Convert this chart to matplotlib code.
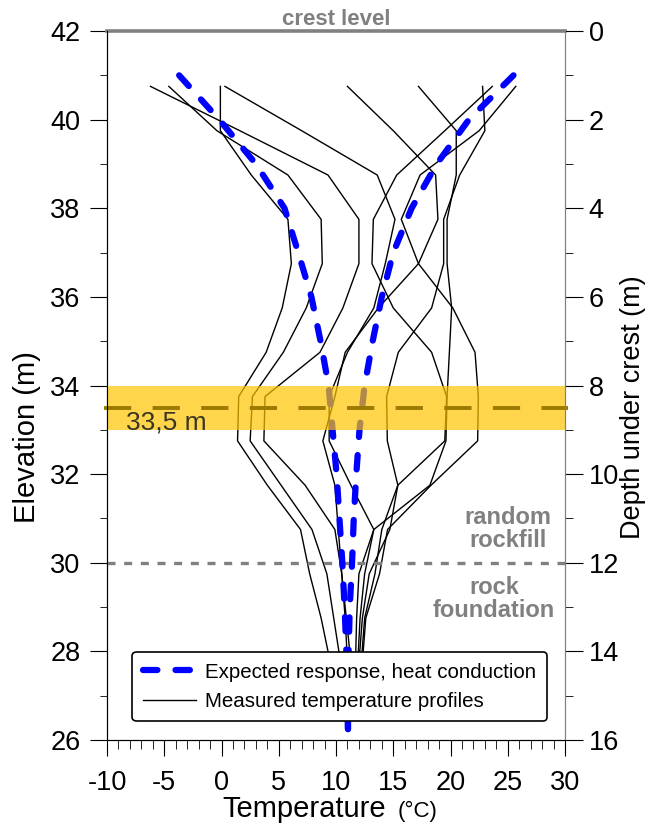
import matplotlib.pyplot as plt
from matplotlib.ticker import MultipleLocator

plt.rcParams['font.family'] = ['Liberation Sans', 'DejaVu Sans']
plt.rcParams['axes.unicode_minus'] = False

# expected response (heat conduction), elevation in m vs temperature in C
elev_calc = [41, 40, 39, 38, 37, 36, 35, 34, 33, 32, 31, 30, 29, 28, 27, 26]
calc_cold = [-3.7, -0.2, 3.0, 5.5, 6.7, 7.85, 8.65, 9.35, 9.7, 10.05, 10.3, 10.55, 10.75, 10.9, 11.0, 11.05]
calc_warm = [25.5, 21.6, 18.8, 16.6, 15.0, 14.0, 13.2, 12.5, 12.05, 11.77, 11.55, 11.4, 11.2, 11.1, 11.05, 11.05]

# measured temperature profiles (one value per sensor level)
elev_meas = [40.75, 39.75, 38.75, 37.75, 36.75, 35.75, 34.75, 33.75, 32.75, 31.75, 30.75, 29.75, 28.75, 27.75]
prof_a = [-6.2, 1.6, 9.3, 12.0, 12.0, 10.6, 8.6, 3.8, 3.7, 7.3, 9.9, 10.5, 10.9, 11.3]
prof_b = [-4.6, -0.4, 5.8, 8.7, 8.8, 7.4, 5.4, 2.7, 2.5, 5.2, 7.9, 9.2, 9.8, 10.4]
prof_c = [-0.1, -0.1, 2.6, 5.8, 6.1, 5.3, 3.9, 1.5, 1.4, 4.0, 6.9, 7.7, 8.7, 9.5]
prof_d = [0.3, 7.0, 13.6, 15.15, 14.3, 13.3, 11.0, 9.4, 9.4, 11.3, 13.3, 12.5, 12.1, 11.9]
prof_e = [11.0, 15.0, 18.7, 18.9, 17.2, 13.7, 10.8, 9.9, 8.85, 9.9, 10.2, 10.5, 10.8, 11.0]
prof_f = [17.2, 20.5, 20.5, 19.7, 19.7, 20.1, 19.9, 19.7, 19.6, 18.2, 13.3, 12.0, 11.8, 11.7]
prof_g = [22.8, 23.0, 20.8, 19.4, 19.4, 18.35, 15.44, 14.42, 14.48, 15.4, 14.7, 12.9, 12.3, 12.0]
prof_h = [23.65, 19.5, 15.3, 13.26, 13.14, 15.0, 18.35, 19.66, 19.5, 15.4, 14.0, 13.4, 12.5, 12.2]
prof_i = [25.7, 22.5, 17.34, 15.7, 17.2, 20.2, 22.14, 22.43, 22.37, 18.3, 14.5, 13.8, 12.6, 12.3]
profiles = [prof_a, prof_b, prof_c, prof_d, prof_e, prof_f, prof_g, prof_h, prof_i]

grey = '#808080'

fig = plt.figure(figsize=(6.49, 8.27), dpi=100)
ax = fig.add_axes([0.1649, 0.1052, 0.7057, 0.8573])

meas_lines = []
for p in profiles:
    meas_lines += ax.plot(p, elev_meas, color='black', lw=1.0, zorder=3)

calc_line, = ax.plot(calc_cold, elev_calc, color='blue', lw=4.5, dashes=(2.3, 2.9),
                     dash_capstyle='round', zorder=4)
ax.plot(calc_warm, elev_calc, color='blue', lw=4.5, dashes=(2.3, 2.9),
        dash_capstyle='round', zorder=4)

# boundary rockfill / foundation
ax.axhline(30, color=grey, lw=2.4, dashes=(2.4, 2.6), zorder=3.5)
ax.text(25.0, 30.77, 'random\nrockfill', ha='center', va='center', fontsize=17,
        fontweight='bold', color=grey, linespacing=1.0)
ax.text(23.8, 29.19, 'rock\nfoundation', ha='center', va='center', fontsize=17,
        fontweight='bold', color=grey, linespacing=1.0)

# crest
ax.axhline(42, color=grey, lw=2.6, zorder=6, clip_on=False)
ax.text(10, 42.14, 'crest level', ha='center', va='baseline', fontsize=16,
        fontweight='bold', color=grey)

# 33,5 m band
ax.axhspan(33.0, 34.0, color='#FFC400', alpha=0.7, lw=0, zorder=5)
ax.text(-8.3, 33.17, '33,5 m', fontsize=19, color='#3a3522', va='center', zorder=5.5)
ax.plot([-10.3, 30.3], [33.5, 33.5], color='#9a7a00', lw=2.8, dashes=(7, 5.5),
        zorder=6, clip_on=False)

ax.set_xlim(-10, 30)
ax.set_ylim(26, 42)
ax.xaxis.set_major_locator(MultipleLocator(5))
ax.xaxis.set_minor_locator(MultipleLocator(1))
ax.yaxis.set_major_locator(MultipleLocator(2))
ax.yaxis.set_minor_locator(MultipleLocator(1))
ax.tick_params(axis='x', which='major', length=11.3, pad=10, labelsize=19.5)
ax.tick_params(axis='x', which='minor', length=6.5)
ax.tick_params(axis='y', which='major', length=12, pad=7, labelsize=19.5)
ax.tick_params(axis='y', which='minor', length=5.4)
ax.spines['top'].set_visible(False)
ax.spines['right'].set_color(grey)

ax2 = ax.twinx()
ax2.set_ylim(16, 0)
ax2.yaxis.set_major_locator(MultipleLocator(2))
ax2.yaxis.set_minor_locator(MultipleLocator(1))
ax2.tick_params(axis='y', which='major', length=13, pad=4, labelsize=19.5)
ax2.tick_params(axis='y', which='minor', length=5.4)
ax2.spines['top'].set_visible(False)
ax2.spines['right'].set_color(grey)

leg = ax.legend([calc_line, meas_lines[0]],
                ['Expected response, heat conduction', 'Measured temperature profiles'],
                loc='lower left', bbox_to_anchor=(0.033, 0.012), fontsize=14.8,
                handlelength=2.6, handletextpad=0.45, labelspacing=0.5,
                borderpad=0.5, fancybox=True, framealpha=1, edgecolor='black')
leg.get_frame().set_linewidth(1.2)

fig.text(0.0416, 0.4716, 'Elevation (m)', rotation=90, ha='center', va='center', fontsize=21)
fig.text(0.9753, 0.5079, 'Depth under crest (m)', rotation=90, ha='center', va='center', fontsize=19.5)
fig.text(0.5948, 0.0121, 'Temperature', ha='right', va='baseline', fontsize=21)
fig.text(0.6133, 0.0121, '(°C)', ha='left', va='baseline', fontsize=16)

fig.savefig('out.png', dpi=100)
